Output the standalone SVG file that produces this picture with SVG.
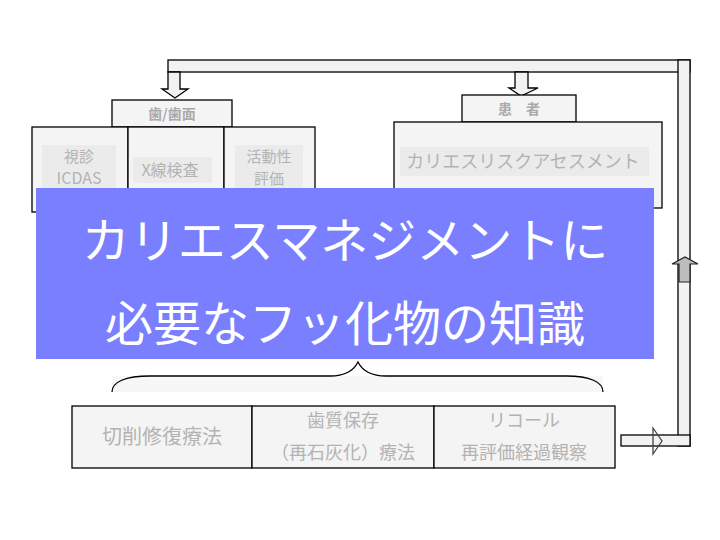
<svg xmlns="http://www.w3.org/2000/svg" width="720" height="540" viewBox="0 0 720 540">
<style>
.box{fill:#f4f4f4;stroke:#000;stroke-width:1.3}
.bg{fill:#ebebeb}
.t{font-family:"Noto Sans CJK JP","Noto Sans",sans-serif;fill:#b3b3b3;text-anchor:middle}
.tb{font-family:"Noto Sans CJK JP","Noto Sans",sans-serif;fill:#aaaaaa;text-anchor:middle;font-weight:bold}
.bar{fill:#f2f2f2;stroke:#000;stroke-width:1.3}
.w{font-family:"Noto Sans CJK JP","Noto Sans",sans-serif;fill:#ffffff;text-anchor:middle;font-size:48px}
</style>
<rect width="720" height="540" fill="#ffffff"/>
<g id="connectors">
<rect class="bar" x="168" y="60" width="522" height="12"/>
<rect class="bar" x="678" y="60" width="12" height="386"/>
<rect class="bar" x="621" y="435" width="69" height="11"/>
<polygon class="bar" points="168,72 180,72 180,89 188,89 175,98 162,89 168,89"/>
<polygon class="bar" points="515,72 528,72 528,88 538,88 521,96 509,88 515,88"/>
<polygon points="653,428 662,441 653,454" fill="none" stroke="#444" stroke-width="1.3"/>
<polygon points="679,282 679,264 672,264 685,257 698,264 690,264 690,282" fill="#bdbdbd" stroke="#222" stroke-width="1.2"/>
<rect x="112" y="376" width="491" height="16" fill="#f7f7f7"/>
<path d="M112,392 C112,382 125,376 150,376 L330,376 C347,376 354,370 358,362 C362,370 369,376 386,376 L566,376 C590,376 603,382 603,392" fill="none" stroke="#000" stroke-width="1.3"/>
</g>
<g id="tooth">
<rect class="box" x="112" y="100" width="120" height="27"/>
<text class="tb" x="172" y="119" font-size="14">歯/歯面</text>
</g>
<g id="visual">
<rect class="box" x="32" y="127" width="96" height="85"/>
<rect class="bg" x="42" y="145" width="74" height="43"/>
<text class="t" x="79" y="162" font-size="15">視診</text>
<text class="t" x="79" y="184" font-size="16">ICDAS</text>
</g>
<g id="xray">
<rect class="box" x="128" y="127" width="96" height="85"/>
<rect class="bg" x="133" y="157" width="79" height="26"/>
<text class="t" x="170" y="176" font-size="16">X線検査</text>
</g>
<g id="activity">
<rect class="box" x="224" y="127" width="91" height="85"/>
<rect class="bg" x="235" y="145" width="68" height="43"/>
<text class="t" x="269" y="162" font-size="15">活動性</text>
<text class="t" x="269" y="184" font-size="15">評価</text>
</g>
<g id="patient">
<rect class="box" x="462" y="95" width="114" height="27"/>
<text class="tb" x="519" y="114" font-size="14">患　者</text>
</g>
<g id="risk">
<rect class="box" x="394" y="122" width="268" height="86"/>
<rect class="bg" x="400" y="147" width="249" height="29"/>
<text class="t" x="523" y="168" font-size="18">カリエスリスクアセスメント</text>
</g>
<g id="title">
<rect x="36" y="188" width="618" height="171" fill="#7a7fff"/>
<text class="w" x="345" y="258">カリエスマネジメントに</text>
<text class="w" x="345" y="341">必要なフッ化物の知識</text>
</g>
<g id="restoration">
<rect class="box" x="72" y="406" width="180" height="62"/>
<text class="t" x="162" y="444" font-size="20">切削修復療法</text>
</g>
<g id="preservation">
<rect class="box" x="252" y="406" width="182" height="62"/>
<text class="t" x="343" y="427" font-size="18">歯質保存</text>
<text class="t" x="343" y="459" font-size="18">（再石灰化）療法</text>
</g>
<g id="recall">
<rect class="box" x="434" y="406" width="181" height="62"/>
<text class="t" x="524" y="427" font-size="18">リコール</text>
<text class="t" x="524" y="459" font-size="18">再評価経過観察</text>
</g>
</svg>
